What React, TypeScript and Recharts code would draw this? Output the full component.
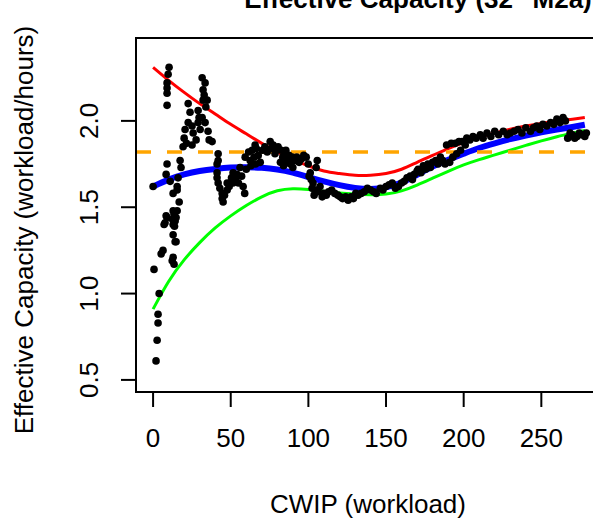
import { ComposedChart, Scatter, Line, XAxis, YAxis, ReferenceLine } from 'recharts';

const FONT = '"Liberation Sans", Arial, Helvetica, sans-serif';

const X_TICKS = [0, 50, 100, 150, 200, 250];
const Y_TICKS = [0.5, 1.0, 1.5, 2.0];
const TARGET = 1.82;

const observed: [number, number][] = [
  [0.0, 1.62], [0.6, 1.14], [1.9, 0.61], [2.6, 0.73], [3.2, 0.83], [3.2, 0.88], [3.9, 1.0],
  [5.2, 1.23], [6.4, 1.25], [7.1, 1.4], [7.7, 1.41], [8.4, 1.45], [8.4, 1.69], [9.0, 1.44],
  [9.0, 1.75], [9.0, 2.09], [9.0, 2.16], [9.0, 2.19], [9.0, 2.22], [9.7, 2.27], [10.3, 2.31],
  [11.0, 1.65], [12.3, 1.19], [12.5, 1.43], [12.9, 1.58], [12.9, 1.48], [12.9, 1.4], [12.9, 1.34],
  [12.9, 1.21], [13.5, 1.17], [13.5, 1.46], [13.8, 1.39], [14.2, 1.42], [14.2, 1.3], [14.8, 1.44],
  [14.8, 1.3], [15.5, 1.48], [15.5, 1.6], [15.5, 1.62], [16.1, 1.67], [16.8, 1.53], [17.4, 1.77],
  [18.0, 1.73],
  [19.3, 1.85], [20.0, 1.9], [20.6, 1.95], [21.5, 1.87], [22.6, 1.99], [22.6, 2.1], [23.8, 2.05],
  [25.1, 1.97], [25.1, 1.86], [25.8, 1.93], [27.7, 1.89], [29.0, 2.06], [29.0, 1.99], [29.6, 2.02],
  [30.3, 1.95], [31.6, 2.25], [31.6, 2.02], [32.2, 2.18], [32.2, 2.12], [32.9, 2.15], [33.5, 2.22],
  [33.5, 1.99], [34.0, 2.08], [34.8, 2.12], [35.4, 1.94], [36.1, 1.89], [38.0, 1.88],
  [41.2, 1.75], [41.2, 1.7], [41.2, 1.67], [41.9, 1.81], [41.9, 1.77], [41.9, 1.64], [43.0, 1.61],
  [44.5, 1.58], [44.5, 1.55], [45.1, 1.53], [46.0, 1.57], [47.7, 1.64], [47.7, 1.6], [49.0, 1.62],
  [50.5, 1.67], [51.5, 1.7], [51.5, 1.64], [53.0, 1.66], [54.0, 1.69], [55.0, 1.64], [56.0, 1.73],
  [57.0, 1.68], [58.0, 1.62], [59.0, 1.58], [59.3, 1.79], [60.0, 1.72],
  [61.5, 1.82], [62.5, 1.77], [63.0, 1.74], [63.8, 1.83], [65.0, 1.79], [65.7, 1.86], [66.0, 1.75],
  [66.5, 1.84], [67.7, 1.8], [69.0, 1.76], [70.5, 1.83], [72.0, 1.85], [73.5, 1.82], [75.4, 1.88],
  [76.0, 1.84], [77.3, 1.86], [78.5, 1.81], [79.3, 1.83], [80.5, 1.85], [82.0, 1.76], [82.5, 1.83],
  [83.5, 1.79], [84.0, 1.74], [84.4, 1.8], [85.5, 1.83], [86.3, 1.77], [87.5, 1.8], [88.3, 1.75],
  [89.6, 1.79], [90.0, 1.73], [91.0, 1.77], [92.5, 1.79], [94.0, 1.76], [95.5, 1.78], [97.0, 1.8],
  [98.6, 1.79], [99.9, 1.75],
  [100.5, 1.68], [101.2, 1.7], [101.8, 1.66], [102.4, 1.61], [103.0, 1.64], [103.7, 1.57],
  [104.5, 1.6], [105.0, 1.73], [105.7, 1.77], [106.3, 1.59], [107.5, 1.62], [108.9, 1.56],
  [110.0, 1.58], [111.5, 1.57], [113.0, 1.59], [115.0, 1.6], [117.0, 1.58], [119.0, 1.57],
  [120.5, 1.56], [122.0, 1.55], [124.0, 1.56], [125.6, 1.54], [127.5, 1.56], [129.0, 1.55],
  [130.5, 1.58], [132.0, 1.57], [134.0, 1.58], [136.0, 1.59], [138.0, 1.61], [140.0, 1.6],
  [142.0, 1.59], [143.7, 1.58], [146.3, 1.61], [148.0, 1.6], [150.0, 1.62],
  [152.0, 1.63], [154.0, 1.64], [156.0, 1.61], [158.0, 1.62], [160.0, 1.64], [161.7, 1.65],
  [163.5, 1.67], [165.6, 1.68], [167.0, 1.66], [168.2, 1.69], [170.0, 1.71], [170.7, 1.72],
  [172.5, 1.7], [174.0, 1.74], [175.5, 1.72], [177.0, 1.75], [178.5, 1.73], [180.0, 1.76],
  [182.0, 1.77], [183.5, 1.75], [185.0, 1.79], [186.5, 1.77], [188.0, 1.75], [189.0, 1.86],
  [191.0, 1.76], [192.0, 1.87], [193.0, 1.79], [194.6, 1.87], [195.5, 1.81], [197.0, 1.88],
  [198.0, 1.83], [199.0, 1.88],
  [201.0, 1.86], [202.0, 1.9], [204.0, 1.89], [206.0, 1.91], [208.0, 1.9], [210.7, 1.92],
  [212.5, 1.9], [215.0, 1.93], [217.5, 1.91], [220.0, 1.94], [222.5, 1.92], [225.5, 1.94],
  [228.0, 1.92], [230.0, 1.93], [232.5, 1.94], [235.0, 1.95], [237.5, 1.93], [240.0, 1.96],
  [243.0, 1.94], [245.0, 1.96], [247.0, 1.97], [249.0, 1.95], [251.0, 1.98], [253.5, 1.97],
  [256.0, 1.99], [258.0, 1.98], [260.0, 2.01], [262.0, 1.99], [264.0, 2.02], [265.5, 2.0],
  [267.0, 1.9], [268.5, 1.93], [270.0, 1.92], [271.5, 1.9], [273.0, 1.91], [274.5, 1.93],
  [276.4, 1.92], [278.0, 1.91], [279.0, 1.93],
];

// smoothed fits, sampled along CWIP
const fitX = [0, 10, 20, 30, 40, 50, 60, 70, 80, 90, 100, 110, 120, 130, 140, 150, 160, 170, 180, 190, 200, 210, 220, 230, 240, 250, 260, 270, 278];
const redFit = [2.31, 2.235, 2.165, 2.1, 2.04, 1.98, 1.925, 1.87, 1.82, 1.775, 1.74, 1.71, 1.695, 1.685, 1.685, 1.695, 1.72, 1.76, 1.8, 1.84, 1.875, 1.905, 1.93, 1.952, 1.97, 1.985, 2.0, 2.01, 2.02];
const blueFit = [1.62, 1.66, 1.69, 1.71, 1.722, 1.73, 1.732, 1.728, 1.718, 1.7, 1.675, 1.65, 1.628, 1.612, 1.606, 1.615, 1.643, 1.688, 1.735, 1.775, 1.81, 1.843, 1.87, 1.894, 1.915, 1.934, 1.95, 1.965, 1.978];
const greenFit = [0.91, 1.07, 1.195, 1.295, 1.38, 1.45, 1.51, 1.56, 1.595, 1.607, 1.603, 1.593, 1.583, 1.576, 1.572, 1.576, 1.595, 1.628, 1.668, 1.708, 1.745, 1.776, 1.803, 1.831, 1.858, 1.884, 1.908, 1.929, 1.945];

const points = observed.map(([x, y]) => ({ x, y }));
const fit = (vals: number[]) => fitX.map((x, i) => ({ x, y: vals[i] }));

const XTick = ({ x, y, payload }: any) => (
  <text x={x} y={y + 40} textAnchor="middle" fontSize={26} fontFamily={FONT} fill="#000">
    {payload.value}
  </text>
);

const YTick = ({ x, y, payload }: any) => (
  <text
    x={x - 23}
    y={y}
    textAnchor="middle"
    fontSize={26}
    fontFamily={FONT}
    fill="#000"
    transform={`rotate(-90, ${x - 23}, ${y})`}
  >
    {Number(payload.value).toFixed(1)}
  </text>
);

const Dot = (props: any) => <circle cx={props.cx} cy={props.cy} r={3.8} fill="#000" />;

export default function App() {
  return (
    <div style={{ position: 'absolute', left: 0, top: 0, width: 593, height: 521, overflow: 'hidden', background: '#fff' }}>
      <ComposedChart width={640} height={521} margin={{ top: 38, right: 35, bottom: 0, left: 0 }}>
        <XAxis
          type="number"
          dataKey="x"
          domain={[-11, 291]}
          ticks={X_TICKS}
          interval={0}
          allowDataOverflow
          height={129}
          tickSize={15}
          tickMargin={0}
          axisLine={false}
          tickLine={{ stroke: '#000', strokeWidth: 2 }}
          tick={<XTick />}
        />
        <YAxis
          type="number"
          dataKey="y"
          domain={[0.43, 2.48]}
          ticks={Y_TICKS}
          interval={0}
          allowDataOverflow
          width={136}
          tickSize={15}
          tickMargin={0}
          axisLine={false}
          tickLine={{ stroke: '#000', strokeWidth: 2 }}
          tick={<YTick />}
        />
        <Scatter data={points} shape={<Dot />} isAnimationActive={false} />
        <Line data={fit(redFit)} dataKey="y" type="natural" stroke="#FF0000" strokeWidth={3} dot={false} activeDot={false} isAnimationActive={false} />
        <Line data={fit(greenFit)} dataKey="y" type="natural" stroke="#00FF00" strokeWidth={3} dot={false} activeDot={false} isAnimationActive={false} />
        <Line data={fit(blueFit)} dataKey="y" type="natural" stroke="#0000FF" strokeWidth={6} dot={false} activeDot={false} isAnimationActive={false} />
        <ReferenceLine y={TARGET} stroke="#FFA500" strokeWidth={3.5} strokeDasharray="15 16" ifOverflow="visible" />
      </ComposedChart>
      <svg width={593} height={521} style={{ position: 'absolute', left: 0, top: 0, pointerEvents: 'none' }}>
        <rect x={136} y={38} width={469} height={354} fill="none" stroke="#000" strokeWidth={2} />
        <text x={418} y={8} textAnchor="middle" fontSize={26} fontWeight="bold" fontFamily={FONT} fill="#000">
          Effective Capacity (32" M2a)
        </text>
        <text x={368} y={513} textAnchor="middle" fontSize={26} fontFamily={FONT} fill="#000">
          CWIP (workload)
        </text>
        <text
          x={33}
          y={230}
          textAnchor="middle"
          fontSize={26}
          fontFamily={FONT}
          fill="#000"
          transform="rotate(-90, 33, 230)"
        >
          Effective Capacity (workload/hours)
        </text>
      </svg>
    </div>
  );
}
